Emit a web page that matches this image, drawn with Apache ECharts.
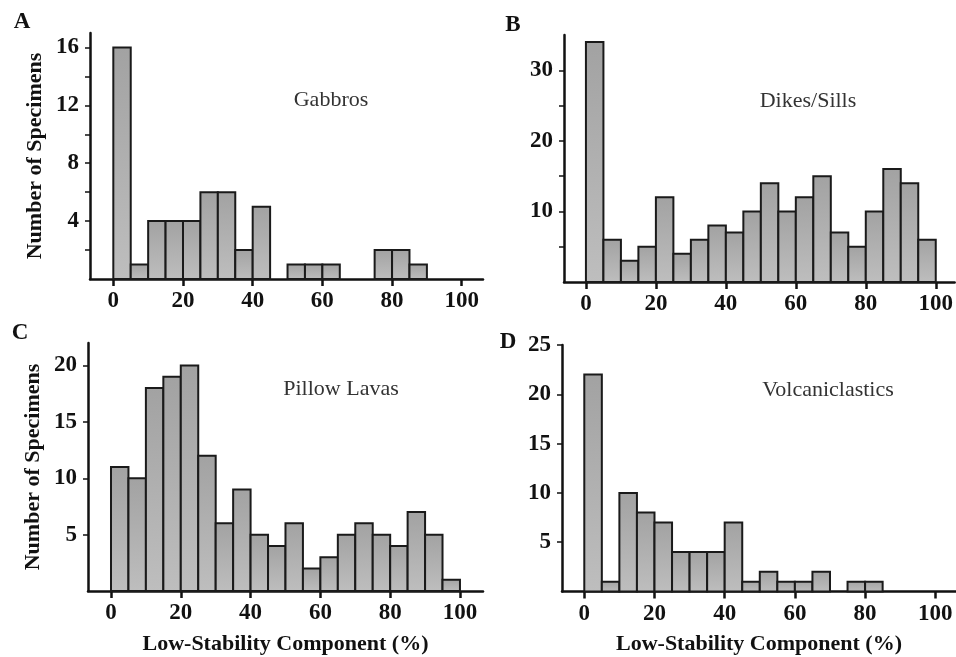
<!DOCTYPE html>
<html>
<head>
<meta charset="utf-8">
<script src="https://cdn.jsdelivr.net/npm/echarts@6/dist/echarts.min.js"></script>
<style>
html,body{margin:0;padding:0;background:#fff;}
#chart{width:956px;height:657px;}
</style>
</head>
<body>
<div id="chart"></div>
<script>
// ---- Data ----
const binStarts = [0,5,10,15,20,25,30,35,40,45,50,55,60,65,70,75,80,85,90,95];
const binWidth = 5;
const gabbros        = [16,1,4,4,4,6,6,2,5,0,1,1,1,0,0,2,2,1,0,0];
const dikesSills     = [34,6,3,5,12,4,6,8,7,10,14,10,12,15,7,5,10,16,14,6];
const pillowLavas    = [11,10,18,19,20,12,6,9,5,4,6,2,3,5,6,5,4,7,5,1];
const volcaniclastics= [22,1,10,8,7,4,4,4,7,1,2,1,1,2,0,1,1,0,0,0];

const panelNames = ['Gabbros','Dikes/Sills','Pillow Lavas','Volcaniclastics'];
const panelLetters = ['A','B','C','D'];
const xTickValues = [0,20,40,60,80,100];
const yTicksA = [2,4,6,8,10,12,14,16];
const yLabelsA = [4,8,12,16];
const yTicksB = [5,10,15,20,25,30];
const yLabelsB = [10,20,30];
const yTicksC = [5,10,15,20];
const yLabelsC = [5,10,15,20];
const yTicksD = [5,10,15,20,25];
const yLabelsD = [5,10,15,20,25];
const yAxisTitle = 'Number of Specimens';
const xAxisTitle = 'Low-Stability Component (%)';

// ---- Layout ----
const FONT = '"Liberation Serif", "DejaVu Serif", serif';
const INK = '#111';
const panels = [
  {counts: gabbros, grid:{left:90, top:33, width:393, height:246}, xMin:-6.69, xMax:106.1, yMax:17, yTicks:yTicksA, yLabels:yLabelsA, yName:true, xName:false},
  {counts: dikesSills, grid:{left:564, top:35, width:392, height:247}, xMin:-6.27, xMax:105.4, yMax:35, yTicks:yTicksB, yLabels:yLabelsB, yName:false, xName:false},
  {counts: pillowLavas, grid:{left:88, top:343, width:395, height:248}, xMin:-6.59, xMax:106.6, yMax:22, yTicks:yTicksC, yLabels:yLabelsC, yName:true, xName:true},
  {counts: volcaniclastics, grid:{left:562, top:345, width:394, height:246.5}, xMin:-6.35, xMax:105.9, yMax:25, yTicks:yTicksD, yLabels:yLabelsD, yName:false, xName:true}
];
const titlePos = [[326,96],[803,97],[336,385],[823,386]];
const letterPos = [[22,22],[513,25],[20,333],[508,342]];

const chart = echarts.init(document.getElementById('chart'), null, {renderer:'canvas'});

const grids = [], xAxes = [], yAxes = [], series = [], titles = [], graphics = [];
panels.forEach((p, i) => {
  grids.push(Object.assign({containLabel:false}, p.grid));
  xAxes.push({
    type:'value', gridIndex:i, min:p.xMin, max:p.xMax,
    splitLine:{show:false},
    axisLine:{show:true, onZero:false, lineStyle:{color:INK, width:2.5}},
    axisTick:{show:true, customValues:xTickValues, length:7, lineStyle:{color:INK, width:2.5}},
    axisLabel:{show:true, customValues:xTickValues, margin:11, fontFamily:FONT, fontWeight:'bold', fontSize:23, color:INK},
    name: p.xName ? xAxisTitle : '',
    nameLocation:'middle', nameGap:42,
    nameTextStyle:{fontFamily:FONT, fontWeight:'bold', fontSize:22, color:INK}
  });
  yAxes.push({
    type:'value', gridIndex:i, min:0, max:p.yMax,
    splitLine:{show:false},
    axisLine:{show:true, onZero:false, lineStyle:{color:INK, width:2.5}},
    axisTick:{show:true, customValues:p.yTicks, length:5, lineStyle:{color:INK, width:1.5}},
    axisLabel:{show:true, customValues:p.yLabels, margin:11, fontFamily:FONT, fontWeight:'bold', fontSize:23, color:INK},
    name: p.yName ? yAxisTitle : '',
    nameLocation:'middle', nameGap:44,
    nameTextStyle:{fontFamily:FONT, fontWeight:'bold', fontSize:22, color:INK}
  });
  const data = [];
  binStarts.forEach((s, k) => { if (p.counts[k] > 0) data.push([s, s + binWidth, p.counts[k]]); });
  series.push({
    type:'custom', xAxisIndex:i, yAxisIndex:i, data:data, silent:true,
    encode:{x:[0,1], y:2},
    renderItem:function(params, api){
      const a = api.coord([api.value(0), 0]);
      const b = api.coord([api.value(1), api.value(2)]);
      return {
        type:'rect',
        shape:{x:a[0], y:b[1], width:b[0]-a[0], height:a[1]-b[1]},
        style:{
          fill:new echarts.graphic.LinearGradient(0,0,0,1,[{offset:0,color:'#a2a2a2'},{offset:1,color:'#bebebe'}]),
          stroke:'#1a1a1a', lineWidth:2
        }
      };
    }
  });
  titles.push({
    text:panelNames[i], left:titlePos[i][0], top:titlePos[i][1] - 12, textAlign:'center',
    textStyle:{fontFamily:FONT, fontWeight:'normal', fontSize:22, color:'#333'}
  });
  graphics.push({
    type:'text', x:letterPos[i][0], y:letterPos[i][1],
    style:{text:panelLetters[i], font:'bold 23px ' + FONT, fill:INK, textAlign:'center', textVerticalAlign:'middle'}
  });
});

chart.setOption({
  animation:false,
  backgroundColor:'#fff',
  title:titles,
  grid:grids,
  xAxis:xAxes,
  yAxis:yAxes,
  series:series,
  graphic:graphics
});
</script>
</body>
</html>
